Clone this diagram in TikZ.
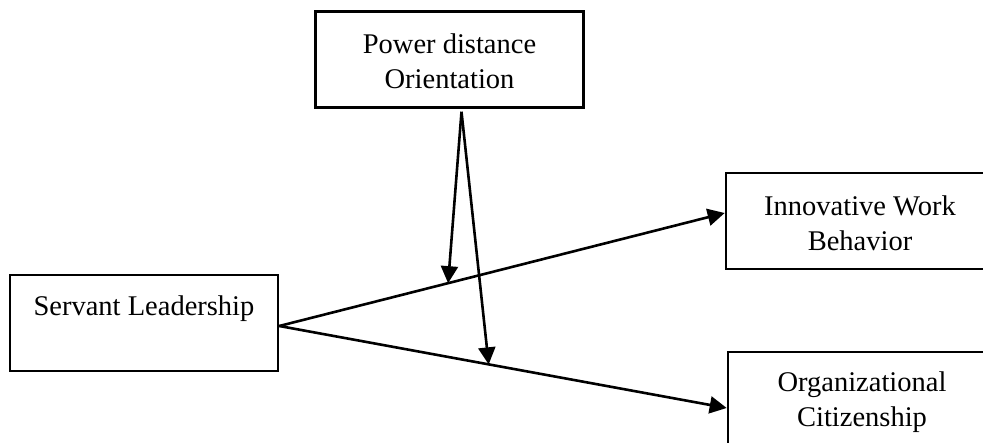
\documentclass[tikz,border=0pt]{standalone}
\usepackage{fontspec}
\setmainfont{Liberation Serif}
\usetikzlibrary{arrows.meta,calc}
\begin{document}
\begin{tikzpicture}[x=1pt,y=-1pt,
  box/.style={draw,line width=2.6pt,minimum width=268pt,minimum height=96pt,
    inner sep=0pt,align=center,font=\fontsize{28.5}{35}\selectfont},
  conn/.style={line width=2.6pt,-{Triangle[length=17pt,width=17pt]}}]
\useasboundingbox (0,0) rectangle (983,443);
\node[box] (pdo) at (449.5,59.5) {\rule{0pt}{24pt}Power distance\\Orientation};
\node[box] (sl) at (144,323) {\rule{0pt}{30pt}Servant Leadership\\\strut};
\node[box] (iwb) at (860,221) {\rule{0pt}{24pt}Innovative Work\\Behavior};
\node[box] (oc) at (862,400) {\rule{0pt}{24pt}Organizational\\Citizenship};
\coordinate (src) at ($(pdo.south)+(12,3)$);
\coordinate (slo) at ($(sl.east)+(0,3)$);
\draw[conn] (slo) -- coordinate[pos=0.379] (m1) ($(iwb.west)+(0,-8)$);
\draw[conn] (slo) -- coordinate[pos=0.468] (m2) ($(oc.west)+(0,8)$);
\draw[conn] (src) -- (m1);
\draw[conn] (src) -- (m2);
\end{tikzpicture}
\end{document}
